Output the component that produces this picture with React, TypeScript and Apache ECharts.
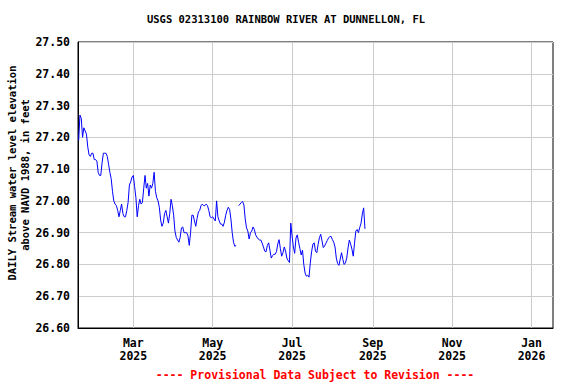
import React, { useEffect, useRef } from 'react';
import * as echarts from 'echarts';

const titleText = 'USGS 02313100 RAINBOW RIVER AT DUNNELLON, FL';
const yNameLine1 = 'DAILY Stream water level elevation';
const yNameLine2 = 'above NAVD 1988, in feet';
const footerText = '---- Provisional Data Subject to Revision ----';

// first daily value: 2025-01-18
const startYear = 2025;
const startMonth = 0;
const startDay = 18;

const levels: (number | null)[] = [
  27.19, 27.27, 27.26, 27.2, 27.23, 27.22, 27.21, 27.17, 27.145, 27.14,
  27.15, 27.15, 27.13, 27.13, 27.125, 27.09, 27.08, 27.08, 27.12, 27.15,
  27.15, 27.15, 27.14, 27.115, 27.09, 27.07, 27.03, 27.0, 26.99, 26.985,
  26.97, 26.95, 26.97, 26.99, 26.96, 26.95, 26.95, 26.97, 26.995, 27.05,
  27.06, 27.075, 27.08, 27.045, 27.01, 26.95, 26.985, 27.005, 26.99, 26.995,
  27.04, 27.08, 27.04, 27.055, 27.015, 27.05, 27.04, 27.055, 27.09, 27.03,
  27.01, 27.0, 26.98, 26.94, 26.92, 26.93, 26.96, 26.97, 26.95, 26.93,
  26.96, 27.005, 26.985, 26.955, 26.905, 26.885, 26.877, 26.87, 26.885, 26.915,
  26.918, 26.9, 26.9, 26.9, 26.89, 26.86, 26.9, 26.955, 26.955, 26.937,
  26.92, 26.945, 26.965, 26.97, 26.985, 26.99, 26.985, 26.985, 26.99, 26.985,
  26.97, 26.95, 26.947, 26.95, 26.943, 26.937, 27.0, 26.95, 26.937, 26.927,
  26.927, 26.92, 26.933, 26.955, 26.97, 26.98, 26.973, 26.943, 26.9, 26.87,
  26.857, 26.86, null, 26.985, 26.99, 26.995, 26.998, 26.987, 26.943, 26.915,
  26.905, 26.88, 26.9, 26.905, 26.918, 26.91, 26.893, 26.886, 26.88, 26.877,
  26.877, 26.867, 26.855, 26.842, 26.84, 26.86, 26.868, 26.845, 26.82, 26.828,
  26.832, 26.832, 26.84, 26.864, 26.878, 26.85, 26.826, 26.837, 26.855, 26.842,
  26.82, 26.812, 26.806, 26.93, 26.89, 26.855, 26.835, 26.883, 26.893, 26.87,
  26.85, 26.83, 26.845, 26.8, 26.773, 26.763, 26.766, 26.76, 26.804, 26.84,
  26.864, 26.868, 26.842, 26.837, 26.863, 26.884, 26.895, 26.874, 26.853, 26.858,
  26.867, 26.875, 26.883, 26.888, 26.888, 26.878, 26.87, 26.855, 26.82, 26.803,
  26.797, 26.817, 26.837, 26.816, 26.8, 26.805, 26.82, 26.852, 26.877, 26.864,
  26.848, 26.826, 26.867, 26.905, 26.91, 26.9, 26.916, 26.93, 26.959, 26.978,
  26.912,
];

// x-axis tick dates [year, monthIndex, day]
const xTickDates: [number, number, number][] = [
  [2025, 2, 1],
  [2025, 4, 1],
  [2025, 6, 1],
  [2025, 8, 1],
  [2025, 10, 1],
  [2026, 0, 1],
];
const monthNames = ['Jan', 'Feb', 'Mar', 'Apr', 'May', 'Jun', 'Jul', 'Aug', 'Sep', 'Oct', 'Nov', 'Dec'];

const yMin = 26.6;
const yMax = 27.5;
const yStep = 0.1;

const MONO = '"DejaVu Sans Mono", "Liberation Mono", monospace';

export default function App() {
  const ref = useRef<HTMLDivElement>(null);

  useEffect(() => {
    document.body.style.margin = '0';
    if (!ref.current) return;
    const chart = echarts.init(ref.current, undefined, { renderer: 'svg' });
    const DAY = 86400000;
    const t0 = new Date(startYear, startMonth, startDay).getTime();
    const data = levels.map((v, i) => [t0 + i * DAY, v]);
    const ticks = xTickDates.map(([y, m, d]) => new Date(y, m, d).getTime());

    chart.setOption({
      animation: false,
      backgroundColor: '#fff',
      grid: {
        left: 78,
        right: 23,
        top: 42,
        bottom: 56,
        show: true,
        borderColor: '#000',
        borderWidth: 1,
        backgroundColor: 'transparent',
      },
      xAxis: {
        type: 'value',
        min: new Date(2025, 0, 17, 12).getTime(),
        max: new Date(2026, 0, 17, 12).getTime(),
        axisLine: { show: true, lineStyle: { color: '#000', width: 1 } },
        axisTick: { show: false, customValues: ticks },
        splitLine: { show: true, lineStyle: { color: '#cccccc', width: 1 } },
        axisLabel: {
          customValues: ticks,
          margin: 8,
          color: '#000',
          fontFamily: MONO,
          fontWeight: 'bold',
          fontSize: 11.5,
          lineHeight: 13,
          formatter: (val: number) => {
            const d = new Date(val);
            return monthNames[d.getMonth()] + '\n' + d.getFullYear();
          },
        },
      },
      yAxis: {
        type: 'value',
        min: yMin,
        max: yMax,
        interval: yStep,
        axisLine: { show: true, lineStyle: { color: '#000', width: 1 } },
        axisTick: { show: false },
        splitLine: { show: true, lineStyle: { color: '#cccccc', width: 1 } },
        axisLabel: {
          margin: 8,
          color: '#000',
          fontFamily: MONO,
          fontWeight: 'bold',
          fontSize: 11.5,
          formatter: (v: number) => v.toFixed(2),
        },
      },
      series: [
        {
          type: 'line',
          data,
          showSymbol: false,
          connectNulls: false,
          lineStyle: { color: '#0000ff', width: 1 },
          itemStyle: { color: '#0000ff' },
        },
      ],
      graphic: [
        {
          type: 'text',
          x: 286,
          y: 19,
          style: {
            text: titleText,
            fontFamily: MONO,
            fontWeight: 'bold',
            fontSize: 10.5,
            fill: '#000',
            align: 'center',
            verticalAlign: 'middle',
          },
        },
        {
          type: 'text',
          x: 12,
          y: 173,
          rotation: Math.PI / 2,
          style: {
            text: yNameLine1,
            fontFamily: MONO,
            fontWeight: 'bold',
            fontSize: 10.5,
            fill: '#000',
            align: 'center',
            verticalAlign: 'middle',
          },
        },
        {
          type: 'text',
          x: 25,
          y: 175,
          rotation: Math.PI / 2,
          style: {
            text: yNameLine2,
            fontFamily: MONO,
            fontWeight: 'bold',
            fontSize: 10.5,
            fill: '#000',
            align: 'center',
            verticalAlign: 'middle',
          },
        },
        {
          type: 'text',
          x: 315,
          y: 375,
          style: {
            text: footerText,
            fontFamily: MONO,
            fontWeight: 'bold',
            fontSize: 11.5,
            fill: '#ff0000',
            align: 'center',
            verticalAlign: 'middle',
          },
        },
      ],
    });

    return () => {
      chart.dispose();
    };
  }, []);

  return <div ref={ref} style={{ width: 576, height: 384 }} />;
}
